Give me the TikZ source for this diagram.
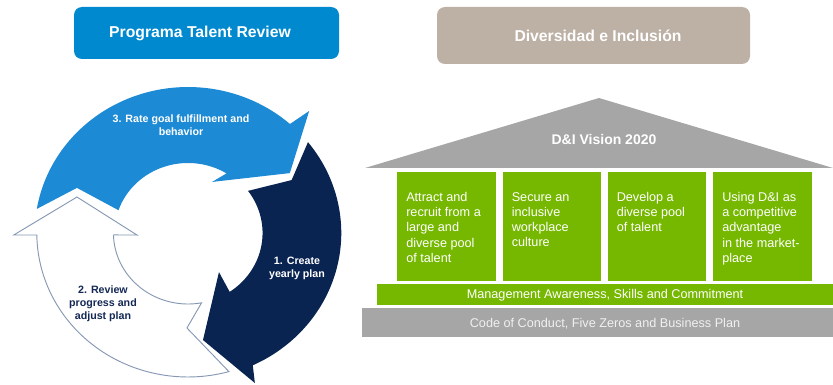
\documentclass[tikz,border=0pt]{standalone}
\usepackage{fontspec}
\setmainfont{Liberation Sans}
\definecolor{tblue}{RGB}{0,137,207}
\definecolor{tgray}{RGB}{189,176,165}
\definecolor{roofgray}{RGB}{166,166,166}
\definecolor{dgreen}{RGB}{118,184,0}
\definecolor{cblue}{RGB}{28,138,212}
\definecolor{cnavy}{RGB}{10,36,82}
\definecolor{cline}{RGB}{135,152,180}
\definecolor{ctext}{RGB}{20,40,85}
\definecolor{codetext}{RGB}{240,240,240}
\begin{document}
\begin{tikzpicture}[x=0.75pt,y=-0.75pt,
  titlebox/.style={rounded corners=6pt, inner sep=0pt},
  titletext/.style={inner sep=0pt, text=white, font=\bfseries\fontsize{11.8}{14}\selectfont},
  pillar/.style={fill=dgreen, inner sep=0pt, minimum width=73.9pt, minimum height=81pt},
  pillartext/.style={anchor=north west, inner sep=0pt, align=left, text=white, font=\fontsize{9.5}{11.4}\selectfont},
  bar/.style={inner sep=0pt},
  bartext/.style={inner sep=0pt, font=\fontsize{9.5}{11.4}\selectfont},
  cyctext/.style={inner sep=0pt, align=center, font=\bfseries\fontsize{8}{9.6}\selectfont}]
\useasboundingbox (0,0) rectangle (833,385);

% title buttons
\node[titlebox, fill=tblue, minimum width=198.75pt, minimum height=39pt] (ttr) at (206.5,33) {};
\node[titletext] (ttrtext) at (200,33) {Programa Talent Review};
\node[titlebox, fill=tgray, minimum width=234.75pt, minimum height=42.75pt] (tdi) at (593.5,35.5) {};
\node[titletext] (tditext) at (598,36) {Diversidad e Inclusión};

% cycle
\coordinate (C) at (188,233);
\begin{scope}[shift={(C)}, x=0.7875pt, y=0.75pt]
  % navy arrow (1)
  \fill[cnavy] plot[domain=38.5:-65, samples=60] (\x:146) -- (-67:163) -- (-82.4:108) -- (-53:49) -- (-56:71)
     -- plot[domain=-56:36.4, samples=60] (\x:71) -- (28.2:112) -- cycle;
  % white arrow (2)
  \filldraw[fill=white, draw=cline, line width=0.7pt, line join=miter] plot[domain=-74.3:-179.2, samples=60] (\x:144)
     -- (-179.3:166) -- (-198.8:111.7) -- (-177.6:48.6) -- (-178.4:70)
     -- plot[domain=-178.4:-79.5, samples=60] (\x:71) -- (-90.6:95) -- cycle;
  % blue arrow (3)
  \fill[cblue] plot[domain=170.5:48.3, samples=60] (\x:146) -- (46.6:168) -- (31.7:114) -- (65.8:56) -- (57.6:72)
     -- plot[domain=57.6:161, samples=60] (\x:70) -- (156.9:115) -- cycle;
\end{scope}
\node[cyctext, text=white] (s3) at (181,125) {3. Rate goal fulfillment and\\behavior};
\node[cyctext, text=white] (s1) at (297,268) {1. Create\\yearly plan};
\node[cyctext, text=ctext] (s2) at (103,304) {2. Review\\progress and\\adjust plan};

% house
\fill[roofgray] (365,168) -- (599,98) -- (833,168) -- cycle;
\node[inner sep=0pt, text=white, font=\bfseries\fontsize{10.5}{12}\selectfont] (vision) at (604,139) {D\&I Vision 2020};

\node[pillar] (p1) at (446.5,226.5) {};
\node[pillar] (p2) at (552,226.5) {};
\node[pillar] (p3) at (657,226.5) {};
\node[pillar] (p4) at (762.5,226.5) {};
\node[pillartext] (t1) at (406,192) {Attract and\\recruit from a\\large and\\diverse pool\\of talent};
\node[pillartext] (t2) at (511.5,192) {Secure an\\inclusive\\workplace\\culture};
\node[pillartext] (t3) at (616.5,192) {Develop a\\diverse pool\\of talent};
\node[pillartext] (t4) at (722,192) {Using D\&I as\\a competitive\\advantage\\in the market-\\place};

\node[bar, fill=dgreen, minimum width=342pt, minimum height=15.75pt] (mgmt) at (605,294.5) {};
\node[bartext, text=white] (mgmttext) at (605,295.5) {Management Awareness, Skills and Commitment};
\node[bar, fill=roofgray, minimum width=353.25pt, minimum height=21.75pt] (code) at (597.5,322.5) {};
\node[bartext, text=codetext] (codetext) at (605,323.5) {Code of Conduct, Five Zeros and Business Plan};
\end{tikzpicture}
\end{document}
